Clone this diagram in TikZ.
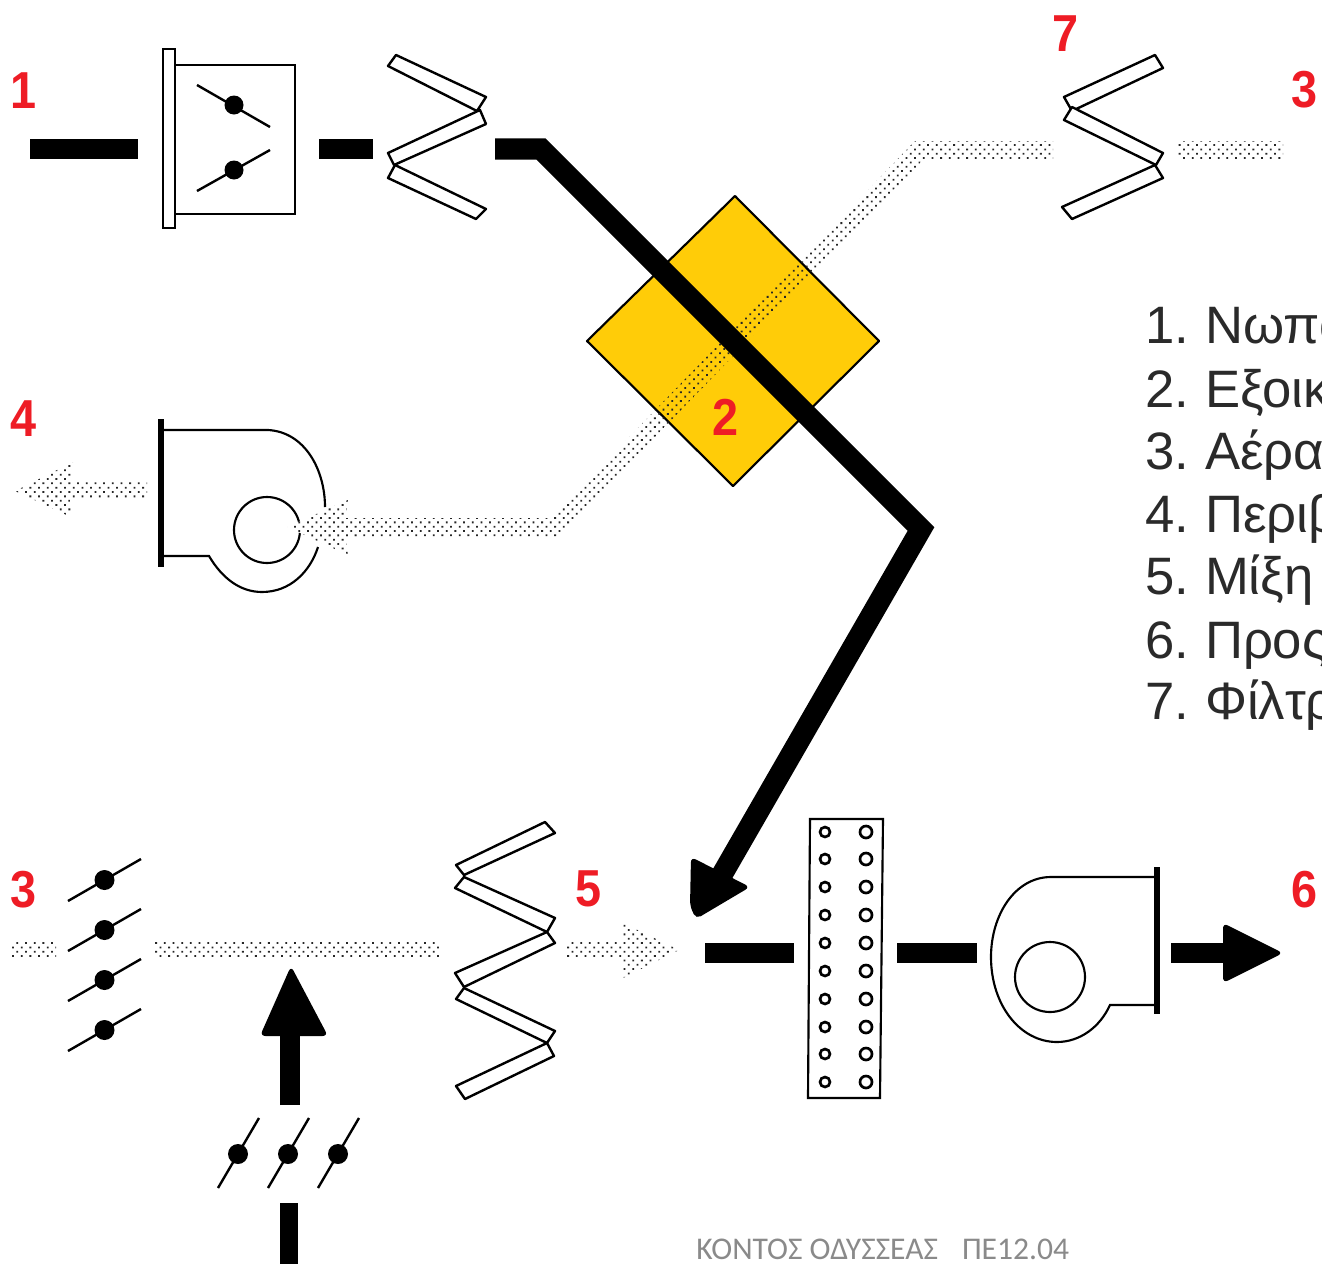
\documentclass[tikz,border=0pt]{standalone}
\usepackage{fontspec}
\setmainfont{Liberation Sans}
\newfontfamily\footfont{Carlito}
\usetikzlibrary{patterns.meta}
\definecolor{numred}{HTML}{EE1C25}
\definecolor{hexyellow}{HTML}{FFCC08}
\definecolor{footgray}{HTML}{8A8A8A}
\definecolor{listgray}{HTML}{2A2A2A}
\tikzset{
  num/.style={text=numred,font=\fontsize{39}{39}\selectfont\bfseries,inner sep=0pt,xscale=0.9},
  listitem/.style={text=listgray,font=\fontsize{39.5}{40}\selectfont,inner sep=0pt,anchor=base west},
  bar/.style={line width=15pt,black},
  mainduct/.style={line width=16pt,black,miter limit=10},
  stipple/.style={pattern={Dots[radius=0.95pt,distance=4.6pt,angle=45]},pattern color=black!85},
  strip/.style={draw=black,line width=1.8pt,fill=white,line join=round},
  blade/.style={line width=1.8pt,black},
  pivot/.style={fill=black},
  casing/.style={draw=black,line width=1.6pt},
  plate/.style={draw=black,line width=3.8pt},
  hole/.style={draw=black,line width=2pt,fill=white},
  head/.style={fill=black,rounded corners=4pt}
}
\begin{document}
\begin{tikzpicture}[x=0.75pt,y=-0.75pt]
\useasboundingbox (0,0) rectangle (1322,1264);

% exchanger
\filldraw[fill=hexyellow,draw=black,line width=1.6pt,line join=round]
  (735,196) -- (879,341) -- (733,486) -- (587,341) -- cycle;

% stippled exhaust path
\fill[stipple] (345,518) -- (551,518) -- (915,141) -- (1053,141) -- (1053,159) -- (924,159) -- (559,536) -- (345,536) -- cycle;
\fill[stipple] (1177,141) rectangle (1283,159);
\fill[stipple] (15,491) -- (73,462) -- (70,482) -- (147,482) -- (147,498) -- (70,498) -- (73,518) -- cycle;
\fill[stipple] (10,940) rectangle (56,958);
\fill[stipple] (154,940) rectangle (441,958);
\fill[stipple] (679,950) -- (623,923) -- (623,941) -- (565,941) -- (565,959) -- (623,959) -- (623,978) -- cycle;

% black flow path
\coordinate (a1) at (30,149);   \coordinate (a2) at (138,149);
\coordinate (b1) at (319,149);  \coordinate (b2) at (373,149);
\coordinate (c1) at (495,149);  \coordinate (c2) at (541,149);
\coordinate (c3) at (921,529);  \coordinate (c4) at (712,892);
\draw[bar] (a1) -- (a2);
\draw[bar] (b1) -- (b2);
\draw[mainduct] (c1) -- (c2) -- (c3) -- (c4);
\fill[head] (696,919) -- (690,906) -- (691,857) -- (750,887) -- cycle;
\coordinate (d1) at (705,953);  \coordinate (d2) at (794,953);
\coordinate (e1) at (897,953);  \coordinate (e2) at (977,953);
\coordinate (f1) at (1171,953); \coordinate (f2) at (1226,953);
\draw[bar] (d1) -- (d2);
\draw[bar] (e1) -- (e2);
\draw[bar] (f1) -- (f2);
\fill[head] (1223,923) -- (1283,953) -- (1223,983) -- cycle;
\coordinate (g1) at (290,1105); \coordinate (g2) at (290,1025);
\draw[bar] (g1) -- (g2);
\fill[head] (291,966) -- (328,1036) -- (260,1036) -- cycle;
\coordinate (h1) at (289,1203); \coordinate (h2) at (289,1264);
\draw[bar,line width=14pt] (h1) -- (h2);

% damper box
\draw[casing] (175,65) rectangle (295,214);
\draw[casing,fill=white] (163,49) rectangle (175,228);
\draw[blade] (197,85) -- (270,127);
\fill[pivot] (234,105) circle[radius=9.5];
\draw[blade] (197,191) -- (270,150);
\fill[pivot] (234,170) circle[radius=9.5];

% top-left filter
\draw[strip] (396,55) -- (486,97) -- (477,111) -- (388,66) -- cycle;
\draw[strip] (395,165) -- (486,209) -- (476,219) -- (388,178) -- cycle;
\draw[strip] (388,153) -- (480,110) -- (486,124) -- (394,165) -- cycle;

% top-right filter
\draw[strip] (1155,55) -- (1163,68) -- (1072,111) -- (1064,97) -- cycle;
\draw[strip] (1155,165) -- (1163,178) -- (1072,219) -- (1062,207) -- cycle;
\draw[strip] (1072,107) -- (1163,153) -- (1156,165) -- (1064,120) -- cycle;

% exhaust fan
\draw[casing] (162,430) -- (268,430) .. controls (305,432) and (325,470) .. (325,507);
\draw[casing] (162,556) -- (209,556) .. controls (222,578) and (240,592) .. (262,592) .. controls (290,592) and (310,572) .. (318,547);
\draw[plate] (161,419) -- (161,567);
\draw[casing] (267,530) circle[radius=33];
\fill[white] (287,527) -- (348,500) -- (345,518) -- (360,518) -- (360,536) -- (345,536) -- (348,555) -- cycle;
\fill[stipple] (287,527) -- (348,500) -- (345,518) -- (360,518) -- (360,536) -- (345,536) -- (348,555) -- cycle;

% bypass dampers
\foreach \yy in {880,930,980,1030}{
  \draw[blade] (68,\yy+21) -- (141,\yy-21);
  \fill[pivot] (104.5,\yy) circle[radius=10];
}
\foreach \xx in {238,288,338}{
  \draw[blade] (\xx-20,1188) -- (\xx+21,1118);
  \fill[pivot] (\xx,1154) circle[radius=10];
}

% lower filter
\draw[strip] (545,822) -- (555,833) -- (464,875) -- (456,865) -- cycle;
\draw[strip] (464,877) -- (555,918) -- (547,932) -- (455,888) -- cycle;
\draw[strip] (547,932) -- (555,943) -- (464,987) -- (455,973) -- cycle;
\draw[strip] (464,988) -- (555,1031) -- (547,1043) -- (456,999) -- cycle;
\draw[strip] (547,1043) -- (554,1056) -- (465,1099) -- (456,1086) -- cycle;

% perforated panel
\draw[casing,fill=white] (810,819) -- (883,819) -- (880,1098) -- (808,1098) -- cycle;
\foreach \yy in {832,859,887,915,943,971,999,1027,1054,1082}{
  \draw[hole] (825,\yy) circle[radius=5];
  \draw[hole] (866,\yy) circle[radius=6];
}

% supply fan
\draw[casing] (1157,877) -- (1051,877) .. controls (1015,877) and (991,915) .. (991,957) .. controls (991,1005) and (1020,1042) .. (1057,1042) .. controls (1080,1042) and (1100,1027) .. (1110,1005) -- (1157,1005);
\draw[plate] (1157,867) -- (1157,1014);
\draw[casing] (1050,977) circle[radius=35];

% numbers
\node[num] (n1) at (24,91) {1};
\node[num] (n7) at (1066,34) {7};
\node[num] (n3a) at (1305,90) {3};
\node[num] (n4) at (24,419) {4};
\node[num] (n2) at (726,417) {2};
\node[num] (n3b) at (24,890) {3};
\node[num] (n5) at (589,889) {5};
\node[num] (n6) at (1305,890) {6};

% list, cut off by the picture's edge
\begin{scope}
\clip (1100,280) rectangle (1322,740);
\node[listitem] (l1) at (1145,343) {1.\hspace{0.3em}Νωπό};
\node[listitem] (l2) at (1145,407) {2.\hspace{0.3em}Εξοικ};
\node[listitem] (l3) at (1145,469) {3.\hspace{0.3em}Αέρα};
\node[listitem] (l4) at (1145,532) {4.\hspace{0.3em}Περιβ};
\node[listitem] (l5) at (1145,594) {5.\hspace{0.3em}Μίξη};
\node[listitem] (l6) at (1145,658) {6.\hspace{0.3em}Προς};
\node[listitem] (l7) at (1145,719) {7.\hspace{0.3em}Φίλτρ};
\end{scope}

% footer
\node[inner sep=0pt,anchor=base west,text=footgray,font=\footfont\fontsize{23.7}{24}\selectfont] (foot) at (696,1259) {ΚΟΝΤΟΣ ΟΔΥΣΣΕΑΣ\hspace{18pt}ΠΕ12.04};
\end{tikzpicture}
\end{document}
